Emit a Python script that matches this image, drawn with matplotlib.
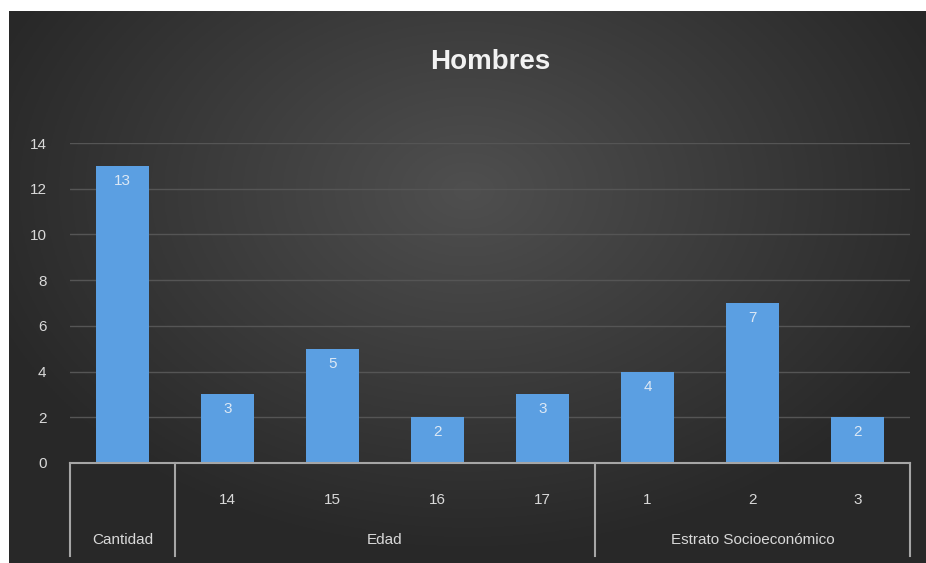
import numpy as np
import matplotlib
matplotlib.use("Agg")
import matplotlib.pyplot as plt
import matplotlib.transforms as mtransforms

title = "Hombres"
groups = ["Cantidad", "Edad", "Estrato Socioeconómico"]
group_sizes = [1, 4, 3]
tick_labels = ["", "14", "15", "16", "17", "1", "2", "3"]
values = [13, 3, 5, 2, 3, 4, 7, 2]
yticks = [0, 2, 4, 6, 8, 10, 12, 14]

bar_color = "#5b9fe2"
text_color = "#d9d9d9"
line_color = "#a6a6a6"

plt.rcParams['font.family'] = ['Liberation Sans', 'DejaVu Sans']

fig = plt.figure(figsize=(9.26, 5.63), dpi=100)
fig.patch.set_facecolor("white")

# dark background panel with a soft radial gradient (Excel style)
bg = fig.add_axes([9 / 926, 0, 1 - 9 / 926, 1 - 11 / 563])
bg.set_axis_off()
gx, gy = np.meshgrid(np.linspace(-1, 1, 400), np.linspace(-1, 1, 250))
r = np.sqrt((gx / 1.1) ** 2 + ((gy + 0.35) / 1.3) ** 2)
shade = np.clip(0.31 - 0.15 * r, 0.16, 0.31)
bg.imshow(np.dstack([shade, shade, shade]), aspect="auto", extent=[0, 1, 0, 1])
bg.set_xlim(0, 1)
bg.set_ylim(0, 1)

ax = fig.add_axes([70 / 926, 1 - 463 / 563, 840 / 926, 320 / 563])
ax.set_facecolor("none")
x = np.arange(len(values))
bars = ax.bar(x, values, width=0.5, color=bar_color, zorder=3)
ax.set_xlim(-0.5, len(values) - 0.5)
ax.set_ylim(0, 14)
ax.set_yticks(yticks)
ax.set_yticklabels([str(v) for v in yticks], color=text_color, fontsize=11)
ax.tick_params(axis="y", length=0, pad=17)
ax.set_xticks([])
ax.yaxis.grid(True, color="#555555", linewidth=1, zorder=0)
for s in ["top", "right", "left"]:
    ax.spines[s].set_visible(False)
ax.spines["bottom"].set_color(line_color)
ax.spines["bottom"].set_linewidth(1.5)
ax.spines["bottom"].set_zorder(4)

for b, v in zip(bars, values):
    ax.text(b.get_x() + b.get_width() / 2, v - 0.35, str(v), ha="center", va="top",
            color="#dce8f5", fontsize=11, zorder=5)

# multi-level category axis
trans = mtransforms.blended_transform_factory(ax.transData, ax.transAxes)
for xi, lab in zip(x, tick_labels):
    ax.text(xi, -0.115, lab, transform=trans, ha="center", va="center",
            color=text_color, fontsize=11)

bounds = np.concatenate([[0], np.cumsum(group_sizes)]) - 0.5
for b in bounds:
    ax.plot([b, b], [0, -0.29], transform=trans, color=line_color,
            linewidth=1.5, clip_on=False)
for g, lo, hi in zip(groups, bounds[:-1], bounds[1:]):
    ax.text((lo + hi) / 2, -0.24, g, transform=trans, ha="center", va="center",
            color=text_color, fontsize=11)

fig.text(490 / 926, 1 - 62 / 563, title, ha="center", va="center",
         color="#f2f2f2", fontsize=20, fontweight="bold")

plt.savefig("out.png", dpi=100, facecolor=fig.get_facecolor())
